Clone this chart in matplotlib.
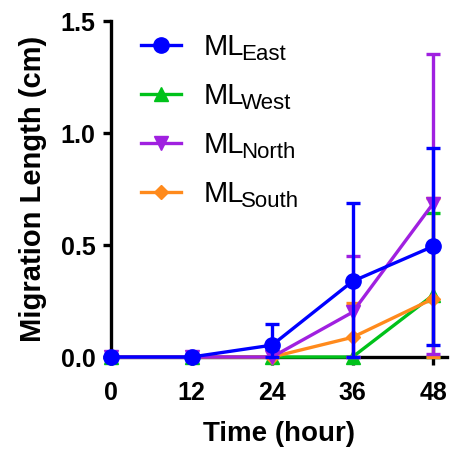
import matplotlib
matplotlib.use("Agg")
import matplotlib.pyplot as plt
import numpy as np

plt.rcParams['font.family'] = 'Liberation Sans'

hours = [0, 12, 24, 36, 48]

east_mean = [0, 0, 0.053, 0.338, 0.494]
east_sd = [0, 0, 0.094, 0.35, 0.439]
west_mean = [0, 0, 0, 0, 0.276]
west_sd = [0, 0, 0, 0, 0.368]
north_mean = [0, 0, 0, 0.2, 0.685]
north_sd = [0, 0, 0, 0.25, 0.67]
south_mean = [0, 0, 0, 0.088, 0.26]
south_sd = [0, 0, 0, 0.155, 0.45]

# draw order (bottom -> top), legend order handled below
series = [
    ('West', west_mean, west_sd, '#00c21a', '^', 10),
    ('South', south_mean, south_sd, '#ff8a1c', 'D', 7),
    ('North', north_mean, north_sd, '#a020e0', 'v', 10),
    ('East', east_mean, east_sd, '#0000ff', 'o', 11),
]
legend_order = ['East', 'West', 'North', 'South']

fig = plt.figure(figsize=(4.54, 4.58), dpi=100)
ax = fig.add_axes([0.2445, 0.2205, 0.739, 0.7336])

handles = {}
for i, (name, m, sd, col, mk, ms) in enumerate(series):
    x = np.array(hours, dtype=float)
    m = np.array(m)
    sd = np.array(sd)
    keep = sd > 0
    lo = np.minimum(sd, m)
    ax.errorbar(x[keep], m[keep], yerr=[lo[keep], sd[keep]], fmt='none',
                ecolor=col, elinewidth=2.4, capsize=5, capthick=2.4,
                zorder=2 + i, clip_on=False)
    ln, = ax.plot(x, m, color=col, marker=mk, markersize=ms, lw=2.4,
                  zorder=2 + i, clip_on=False)
    handles[name] = ln

leg = ax.legend([handles[n] for n in legend_order], ['ML'] * 4,
                loc='upper left', bbox_to_anchor=(0.03, 1.025), frameon=False,
                fontsize=21, handlelength=1.34, handletextpad=0.8,
                labelspacing=0.72, borderaxespad=0.3)

# subscripts next to each "ML" (drawn after the legend)
for txt, n in zip(leg.get_texts(), legend_order):
    ax.annotate(n, xy=(1, 0), xycoords=txt, xytext=(-2.2, -3),
                textcoords='offset points', fontsize=16,
                ha='left', va='bottom', zorder=10)

ax.set_xlim(0, 50)
ax.set_ylim(0, 1.5)
ax.set_xticks(hours)
ax.set_yticks([0, 0.5, 1.0, 1.5])
ax.set_yticklabels(['0.0', '0.5', '1.0', '1.5'])

for s in ['top', 'right']:
    ax.spines[s].set_visible(False)
for s in ['left', 'bottom']:
    ax.spines[s].set_linewidth(2.4)
ax.spines['bottom'].set_zorder(1)

ax.tick_params(width=2.4, length=6, labelsize=18)
ax.tick_params(axis='x', pad=11.5)
ax.tick_params(axis='y', pad=5)
for lab in ax.get_xticklabels() + ax.get_yticklabels():
    lab.set_fontweight('bold')

ax.set_xlabel('Time (hour)', fontsize=20, fontweight='bold', labelpad=11.5)
ax.set_ylabel('Migration Length (cm)', fontsize=21, fontweight='bold', labelpad=10)

fig.savefig('out.png', dpi=100)
